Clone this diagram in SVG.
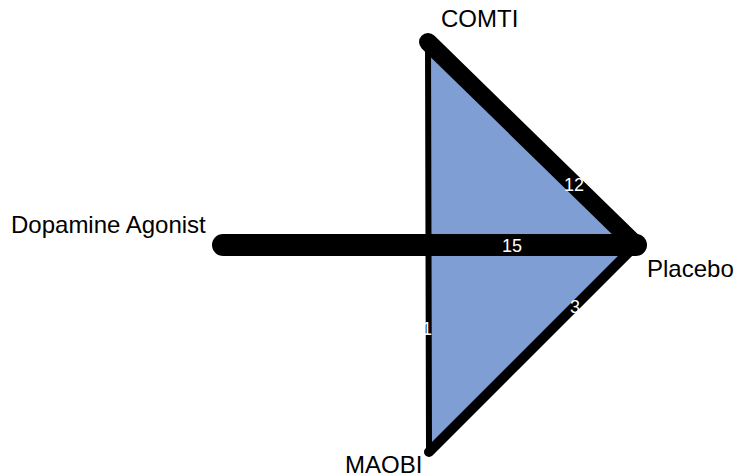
<svg xmlns="http://www.w3.org/2000/svg" width="735" height="476" viewBox="0 0 735 476">
<style>
.e{stroke:#000;stroke-linecap:round;fill:none}
.nl{font-family:"Liberation Sans",Arial,sans-serif;font-size:24px;fill:#000}
.el{font-family:"Liberation Sans",Arial,sans-serif;font-size:18px;fill:#fff;text-anchor:middle}
</style>
<rect width="735" height="476" fill="#fff"/>
<polygon points="428,42 636,245 429,452" fill="#7F9FD4"/>
<g id="connectors">
<line class="e" x1="428" y1="42" x2="429" y2="452" stroke-width="6"/>
<line class="e" x1="429" y1="452" x2="636" y2="245" stroke-width="10"/>
<line class="e" x1="428" y1="42" x2="636" y2="245" stroke-width="18"/>
<line class="e" x1="223" y1="245" x2="636" y2="245" stroke-width="22"/>
<text class="el" x="574" y="191">12</text>
<text class="el" x="512" y="252">15</text>
<text class="el" x="575" y="313">3</text>
<text class="el" x="427" y="335">1</text>
</g>
<g id="node-comti"><text class="nl" x="441" y="27">COMTI</text></g>
<g id="node-placebo"><text class="nl" x="647" y="277">Placebo</text></g>
<g id="node-dopamine"><text class="nl" x="11" y="233">Dopamine Agonist</text></g>
<g id="node-maobi"><text class="nl" x="345" y="473">MAOBI</text></g>
</svg>
